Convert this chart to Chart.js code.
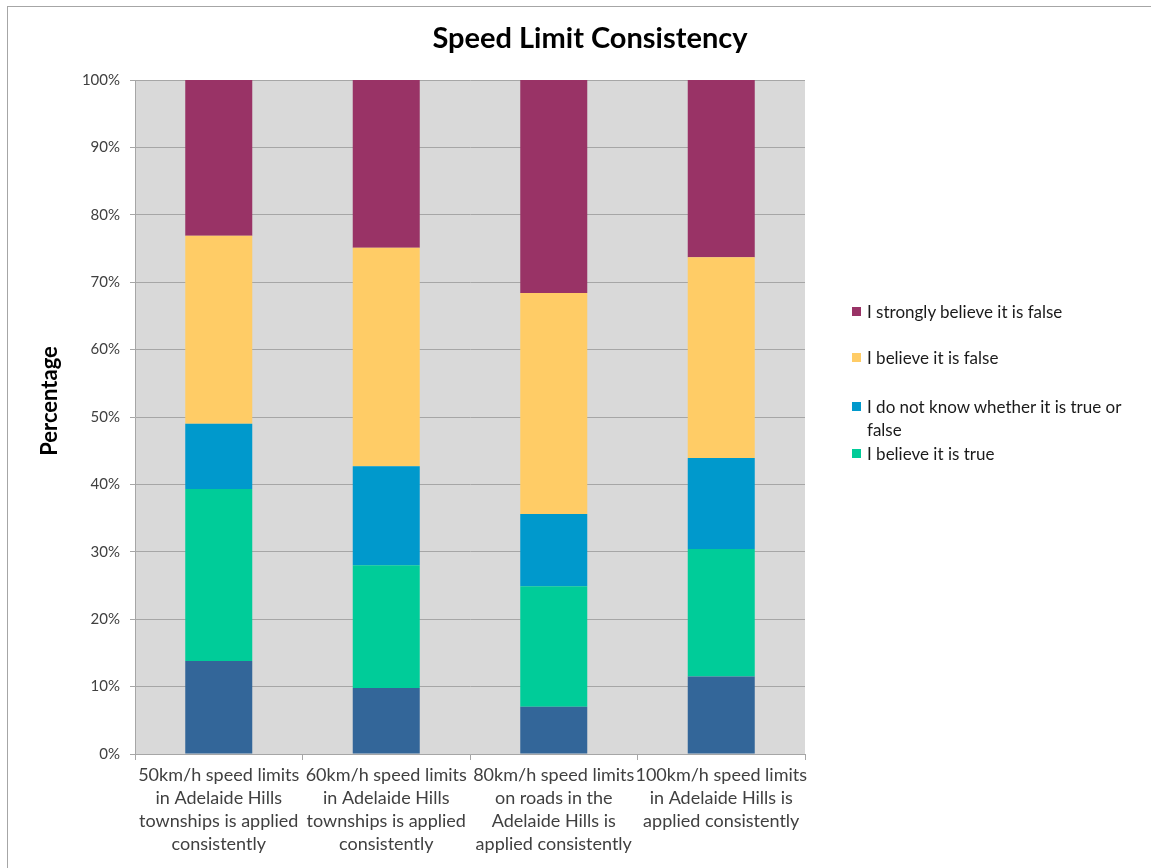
<!DOCTYPE html>
<html>
<head>
<meta charset="utf-8">
<script src="https://cdn.jsdelivr.net/npm/chart.js@4.4.1/dist/chart.umd.min.js"></script>
<style>
  html, body { margin: 0; padding: 0; background: #ffffff; }
  #wrap { position: relative; width: 1151px; height: 868px; overflow: hidden; }
  #frame { position: absolute; left: 7px; top: 6px; right: -2px; bottom: -2px;
           border-top: 1px solid #a6a6a6; border-left: 1px solid #a6a6a6; pointer-events: none; }
  canvas { position: absolute; left: 0; top: 0; }
  #legend { position: absolute; left: 852px; top: 0; font-family: Lato, "Open Sans", sans-serif;
            font-size: 17px; color: #1a1a1a; }
  .item { position: absolute; left: 0; width: 295px; line-height: 23px; }
  .swatch { position: absolute; left: 0; top: 7px; width: 9px; height: 9px; }
  .label { margin-left: 15px; width: 265px; }
</style>
</head>
<body>
<div id="wrap">
  <canvas id="c" width="1151" height="868"></canvas>
  <div id="frame"></div>
  <div id="legend"></div>
</div>
<script>
// Survey statements (one stacked bar each)
const categories = [
  ["50km/h speed limits", "in Adelaide Hills", "townships is applied", "consistently"],
  ["60km/h speed limits", "in Adelaide Hills", "townships is applied", "consistently"],
  ["80km/h speed limits", "on roads in the", "Adelaide Hills is", "applied consistently"],
  ["100km/h speed limits", "in Adelaide Hills is", "applied consistently"]
];

// Share of responses (%) per answer, bottom to top
const stronglyTrue  = [13.8,  9.8,  7.0, 11.5];
const believeTrue   = [25.5, 18.2, 17.9, 18.9];
const dontKnow      = [ 9.7, 14.7, 10.7, 13.5];
const believeFalse  = [27.9, 32.4, 32.8, 29.8];
const stronglyFalse = [23.1, 24.9, 31.6, 26.3];

const yTicks = [0, 10, 20, 30, 40, 50, 60, 70, 80, 90, 100];

const titleText = "Speed Limit Consistency";
const yTitle = "Percentage";

const datasets = [
  { label: "I strongly believe it is true", data: stronglyTrue, backgroundColor: "#336699", inLegend: false },
  { label: "I believe it is true", data: believeTrue, backgroundColor: "#00cc99", inLegend: true },
  { label: "I do not know whether it is true or false", data: dontKnow, backgroundColor: "#0099cc", inLegend: true },
  { label: "I believe it is false", data: believeFalse, backgroundColor: "#ffcc66", inLegend: true },
  { label: "I strongly believe it is false", data: stronglyFalse, backgroundColor: "#993366", inLegend: true }
];

const LABEL_FONT = "Lato, 'Open Sans', sans-serif";

// Grey plot background
const plotBg = {
  id: "plotBg",
  beforeDraw(chart) {
    const { ctx, chartArea: a } = chart;
    ctx.save();
    ctx.fillStyle = "#d9d9d9";
    ctx.fillRect(a.left, a.top, a.right - a.left, a.bottom - a.top);
    ctx.restore();
  }
};

// Chart heading and vertical axis caption
const captions = {
  id: "captions",
  afterDraw(chart) {
    const { ctx } = chart;
    ctx.save();
    ctx.fillStyle = "#000000";
    ctx.textAlign = "center";
    ctx.textBaseline = "middle";
    ctx.font = "bold 29px " + LABEL_FONT;
    ctx.fillText(titleText, 590, 39);
    ctx.translate(50, 401);
    ctx.rotate(-Math.PI / 2);
    ctx.font = "bold 22px " + LABEL_FONT;
    ctx.fillText(yTitle, 0, 0);
    ctx.restore();
  }
};

const chart = new Chart(document.getElementById("c"), {
  type: "bar",
  data: {
    labels: categories,
    datasets: datasets.map(d => ({
      label: d.label,
      data: d.data,
      backgroundColor: d.backgroundColor,
      borderWidth: 0,
      categoryPercentage: 1.0,
      barPercentage: 0.4
    }))
  },
  options: {
    responsive: false,
    animation: false,
    layout: { padding: { top: 80, right: 346, bottom: 0, left: 0 } },
    plugins: {
      legend: { display: false },
      title: { display: false },
      tooltip: { enabled: false }
    },
    scales: {
      x: {
        stacked: true,
        border: { color: "#a6a6a6", width: 1 },
        grid: { offset: true, drawOnChartArea: false, color: "#a6a6a6", tickLength: 6 },
        ticks: {
          autoSkip: false, maxRotation: 0, minRotation: 0, padding: 4,
          color: "#404040",
          font: { family: LABEL_FONT, size: 18, lineHeight: 1.28 }
        },
        afterFit(scale) { scale.height = 114; }
      },
      y: {
        stacked: true,
        min: 0, max: 100,
        afterBuildTicks(scale) { scale.ticks = yTicks.map(v => ({ value: v })); },
        border: { color: "#a6a6a6", width: 1 },
        grid: { color: "#a6a6a6", tickLength: 5, lineWidth: 1 },
        ticks: {
          padding: 10,
          color: "#404040",
          font: { family: LABEL_FONT, size: 15 },
          callback: v => v + "%"
        },
        afterFit(scale) { scale.width = 135; }
      }
    }
  },
  plugins: [plotBg, captions]
});

// Legend built from the chart's own datasets, top entry first
const legendTops = [300, 346, 395, 442];
const legendEl = document.getElementById("legend");
datasets.filter(d => d.inLegend).reverse().forEach((d, i) => {
  const item = document.createElement("div");
  item.className = "item";
  item.style.top = legendTops[i] + "px";
  const sw = document.createElement("div");
  sw.className = "swatch";
  sw.style.background = d.backgroundColor;
  const lb = document.createElement("div");
  lb.className = "label";
  lb.textContent = d.label;
  item.appendChild(sw);
  item.appendChild(lb);
  legendEl.appendChild(item);
});
</script>
</body>
</html>
